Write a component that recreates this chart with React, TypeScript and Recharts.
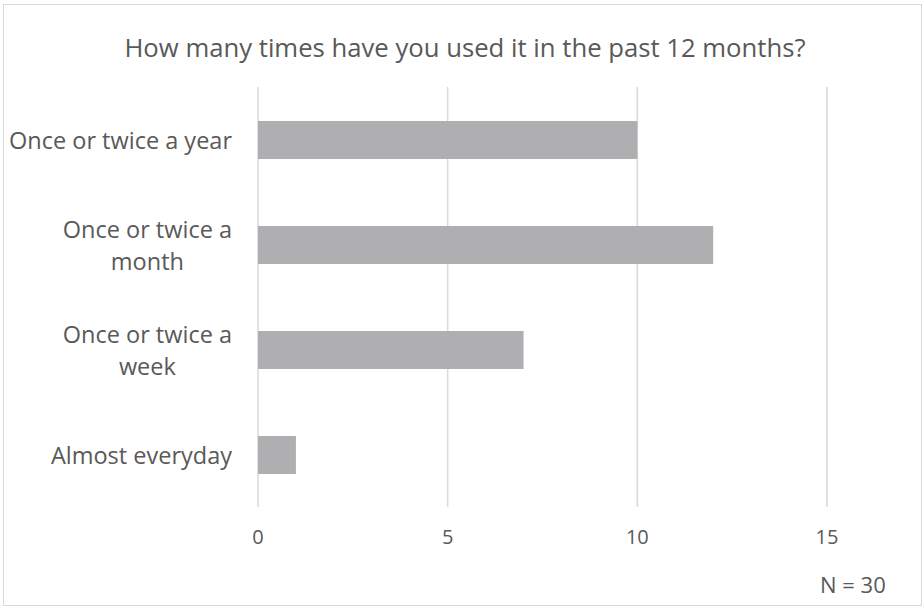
import { Bar, BarChart, CartesianGrid, XAxis, YAxis } from 'recharts'

const categories = ['Once or twice a year', 'Once or twice a month', 'Once or twice a week', 'Almost everyday']
const labelLines = [['Once or twice a year'], ['Once or twice a', 'month'], ['Once or twice a', 'week'], ['Almost everyday']]
const counts = [10, 12, 7, 1]
const xTicks = [0, 5, 10, 15]

const FONT = '"Open Sans", "Noto Sans", sans-serif'
const TEXT = '#595959'

const data = categories.map((name, i) => ({ name, value: counts[i] }))

interface TickProps {
    x?: number
    y?: number
    index?: number
}

// wrapped category labels: right-aligned block, lines centred inside it
function CategoryTick({ x = 0, y = 0, index = 0 }: TickProps) {
    const lines = labelLines[index] ?? []
    const lineHeight = 32
    const h = lines.length * lineHeight
    return (
        <foreignObject x={x - 254} y={y - h / 2} width={260} height={h}>
            <div style={{ display: 'flex', justifyContent: 'flex-end', height: '100%' }}>
                <div style={{ textAlign: 'center', fontFamily: FONT, fontSize: 23.5, color: TEXT, lineHeight: `${lineHeight}px`, whiteSpace: 'nowrap' }}>
                    {lines.map((l) => (
                        <div key={l}>{l}</div>
                    ))}
                </div>
            </div>
        </foreignObject>
    )
}

export default function App() {
    return (
        <div style={{ position: 'fixed', top: 0, left: 0, width: 924, height: 609, background: '#fff', overflow: 'hidden' }}>
            <div style={{ position: 'absolute', left: 3, top: 4, width: 917, height: 600, border: '1px solid #d9d9d9' }} />
            <div style={{ position: 'absolute', top: 30, left: 0, width: 930, textAlign: 'center', fontFamily: FONT, fontSize: 25.7, color: TEXT }}>
                How many times have you used it in the past 12 months?
            </div>
            <BarChart
                width={924}
                height={609}
                data={data}
                layout="vertical"
                margin={{ top: 87, right: 97, bottom: 62, left: 0 }}
                style={{ position: 'absolute', top: 0, left: 0 }}
            >
                <CartesianGrid horizontal={false} stroke="#d9d9d9" strokeWidth={1.5} />
                <XAxis
                    type="number"
                    domain={[0, 15]}
                    ticks={xTicks}
                    axisLine={false}
                    tickLine={false}
                    height={40}
                    tick={{ fontSize: 20, fill: TEXT, fontFamily: FONT, dy: 15 }}
                />
                <YAxis
                    type="category"
                    dataKey="name"
                    width={258}
                    axisLine={false}
                    tickLine={false}
                    tickMargin={26}
                    tick={<CategoryTick />}
                />
                <Bar dataKey="value" fill="#afafb2" barSize={38} isAnimationActive={false} />
            </BarChart>
            <div style={{ position: 'absolute', left: 820, top: 569, fontFamily: FONT, fontSize: 22, color: TEXT }}>N = 30</div>
        </div>
    )
}
